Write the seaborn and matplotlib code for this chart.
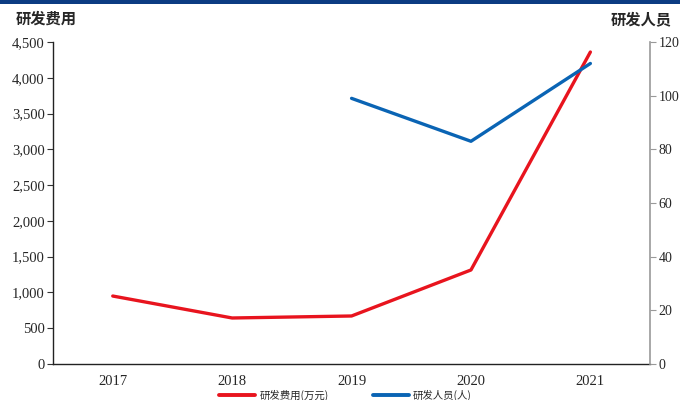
import matplotlib
matplotlib.use("Agg")
import matplotlib.pyplot as plt
import matplotlib.ticker as mticker
from matplotlib.lines import Line2D
import seaborn as sns
import pandas as pd

years = ["2017", "2018", "2019", "2020", "2021"]
rd_expense = [950, 643, 671, 1314, 4360]          # 研发费用 (万元)
rd_staff_years = ["2019", "2020", "2021"]
rd_staff = [99, 83, 112]                          # 研发人员 (人)

RED = "#e8141e"
BLUE = "#0a64b4"
NAVY = "#0c3c82"

sns.set_style("white")
plt.rcParams["font.family"] = ["Liberation Serif", "Noto Sans CJK SC"]
plt.rcParams["axes.unicode_minus"] = False

fig = plt.figure(figsize=(6.8, 4.0), dpi=100)
ax = fig.add_axes([0.078, 0.09, 0.878, 0.805])
ax2 = ax.twinx()

df_exp = pd.DataFrame({"year": years, "value": rd_expense})
df_staff = pd.DataFrame({"year": rd_staff_years, "value": rd_staff})
df_staff["pos"] = [years.index(y) for y in rd_staff_years]
df_exp["pos"] = range(len(years))

sns.lineplot(data=df_exp, x="pos", y="value", ax=ax, color=RED, linewidth=2.4,
             legend=False)
sns.lineplot(data=df_staff, x="pos", y="value", ax=ax2, color=BLUE, linewidth=2.4,
             legend=False)

ax.set_xlim(-0.5, len(years) - 0.5)
ax.set_ylim(0, 4500)
ax2.set_ylim(0, 120)
ax.yaxis.set_major_locator(mticker.MultipleLocator(500))
ax.yaxis.set_major_formatter(mticker.FuncFormatter(lambda v, p: f"{int(v):,}"))
ax2.yaxis.set_major_locator(mticker.MultipleLocator(20))

ax.set_xticks(range(len(years)))
ax.set_xticklabels(years)
ax.set_xticks([i + 0.5 for i in range(-1, len(years))], minor=True)
ax.tick_params(axis="x", which="major", length=0, pad=8, labelsize=10.5)
ax.tick_params(axis="x", which="minor", length=3, direction="out", color="#333333")
ax.tick_params(axis="y", which="major", length=4, direction="out", labelsize=10.5,
               color="#333333", pad=2)
ax2.tick_params(axis="y", which="major", length=4, direction="out", labelsize=10,
                color="#999999", pad=2)
ax.set_xlabel("")
ax.set_ylabel("")
ax2.set_ylabel("")
ax2.set_xlabel("")

for s in ["top", "right"]:
    ax.spines[s].set_visible(False)
for s in ["top", "left", "bottom"]:
    ax2.spines[s].set_visible(False)
ax.spines["left"].set_color("#222222")
ax.spines["bottom"].set_color("#222222")
ax.spines["left"].set_linewidth(1.0)
ax.spines["bottom"].set_linewidth(1.0)
ax2.spines["right"].set_color("#999999")
ax2.spines["right"].set_linewidth(1.2)

# top band
fig.add_artist(plt.Rectangle((0, 1 - 4 / 400), 1, 4 / 400, transform=fig.transFigure,
                             color=NAVY, lw=0))

fig.text(16 / 680, 1 - 19 / 400, "研发费用", fontsize=11, fontweight="bold",
         family=["Noto Sans CJK SC"], va="center", ha="left")
fig.text(672 / 680, 1 - 19 / 400, "研发人员", fontsize=11, fontweight="bold",
         family=["Noto Sans CJK SC"], va="center", ha="right")

handles = [Line2D([], [], color=RED, lw=2.8), Line2D([], [], color=BLUE, lw=2.8)]
leg = fig.legend(handles, ["研发费用(万元)", "研发人员(人)"], loc="center",
                 bbox_to_anchor=(0.508, 1 - 395 / 400), ncol=2, frameon=False,
                 prop={"family": ["Noto Sans CJK SC"], "size": 7.5},
                 handlelength=3.5, columnspacing=4.2, handletextpad=0.4,
                 borderaxespad=0)

fig.savefig("out.png", dpi=100)
